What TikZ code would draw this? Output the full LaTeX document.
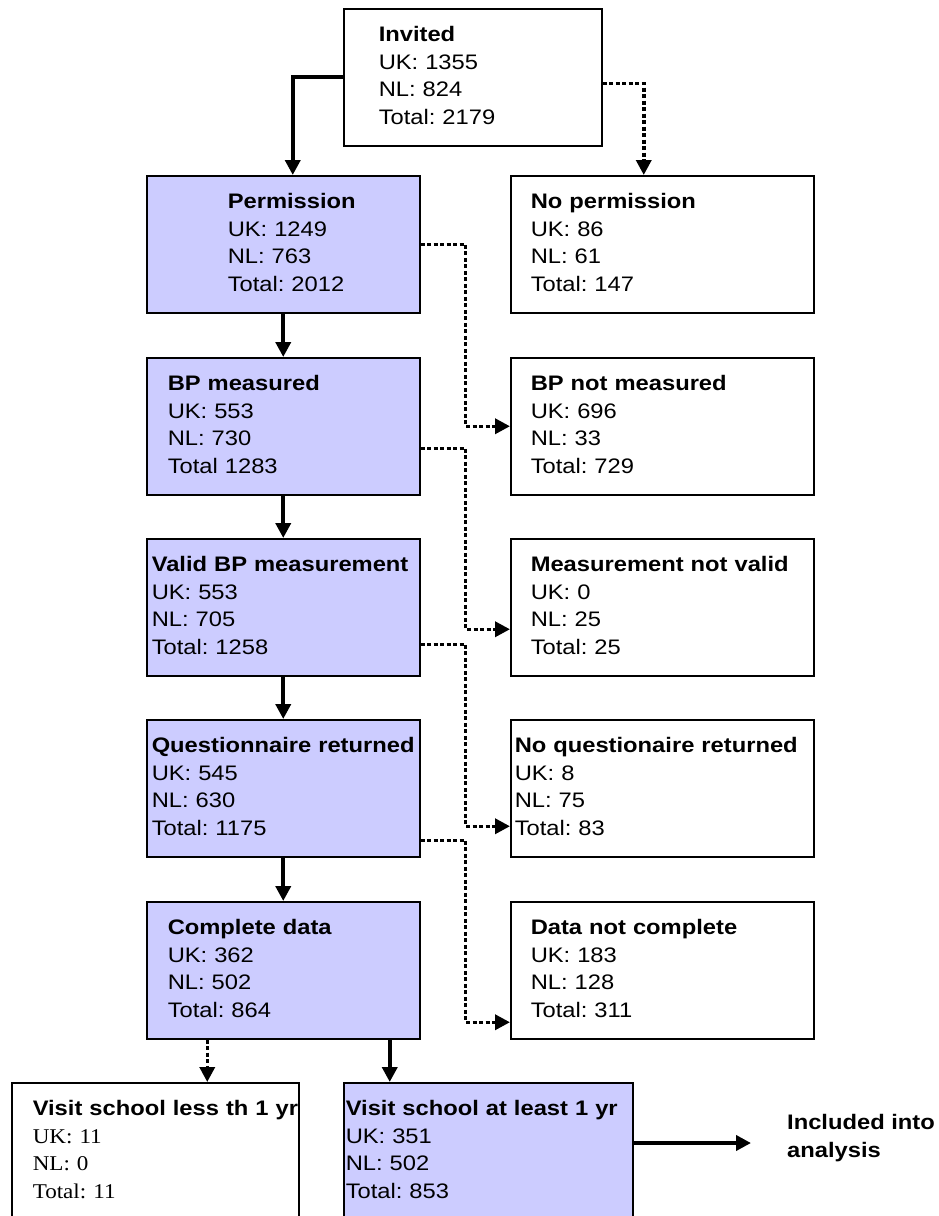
\documentclass[tikz,border=0pt]{standalone}
\usepackage{fontspec}
\setmainfont{Liberation Sans}[FakeStretch=1.13]
\newfontfamily\timesfont{Liberation Serif}[FakeStretch=1.1]
\usepackage{tikz}
\usetikzlibrary{arrows.meta}
\definecolor{lavender}{HTML}{CCCCFF}
\newcommand{\boxtext}[2]{\hspace*{#1}\begin{tabular}{@{}l@{}}#2\end{tabular}}
\frenchspacing

\begin{document}
\begin{tikzpicture}[x=1pt,y=-1pt,
    stage/.style={draw, line width=1.5pt, inner sep=0pt, anchor=north west, minimum height=137pt, align=left, font=\fontsize{21}{27.5}\selectfont},
    kept/.style={stage, fill=lavender},
    flow/.style={line width=4pt, -{Triangle[width=15pt,length=15pt]}},
    drop/.style={line width=3.5pt, dash pattern=on 4pt off 2.5pt, -{Triangle[width=15pt,length=15pt]}}]
         \path[use as bounding box, clip] (0,0) rectangle (938,1216);

         \node[stage, text width=258pt] (inv) at (343,8) {\boxtext{35pt}{\textbf{Invited}\\ UK: 1355\\ NL: 824\\ Total: 2179}};

         \node[kept, text width=273pt] (perm) at (146,175) {\boxtext{81pt}{\textbf{Permission}\\ UK: 1249\\ NL: 763\\ Total: 2012}};
         \node[kept, text width=273pt] (bpm) at (146,357) {\boxtext{21pt}{\textbf{BP measured}\\ UK: 553\\ NL: 730\\ Total 1283}};
         \node[kept, text width=273pt] (valid) at (146,538) {\boxtext{5pt}{\textbf{Valid BP measurement}\\ UK: 553\\ NL: 705\\ Total: 1258}};
         \node[kept, text width=273pt] (quest) at (146,719) {\boxtext{5pt}{\textbf{Questionnaire returned}\\ UK: 545\\ NL: 630\\ Total: 1175}};
         \node[kept, text width=273pt] (compl) at (146,901) {\boxtext{21pt}{\textbf{Complete data}\\ UK: 362\\ NL: 502\\ Total: 864}};

         \node[stage, text width=303pt] (noperm) at (510,175) {\boxtext{20pt}{\textbf{No permission}\\ UK: 86\\ NL: 61\\ Total: 147}};
         \node[stage, text width=303pt] (bpnot) at (510,357) {\boxtext{20pt}{\textbf{BP not measured}\\ UK: 696\\ NL: 33\\ Total: 729}};
         \node[stage, text width=303pt] (mnv) at (510,538) {\boxtext{20pt}{\textbf{Measurement not valid}\\ UK: 0\\ NL: 25\\ Total: 25}};
         \node[stage, text width=303pt] (noq) at (510,719) {\boxtext{4pt}{\textbf{No questionaire returned}\\ UK: 8\\ NL: 75\\ Total: 83}};
         \node[stage, text width=303pt] (dnc) at (510,901) {\boxtext{20pt}{\textbf{Data not complete}\\ UK: 183\\ NL: 128\\ Total: 311}};

         \node[stage, text width=287pt] (visless) at (11,1082) {\boxtext{21pt}{\textbf{Visit school less th 1 yr}\\ \timesfont UK: 11\\ \timesfont NL: 0\\ \timesfont Total: 11}};
         \node[kept, text width=289pt] (visleast) at (343,1082) {\boxtext{2pt}{\textbf{Visit school at least 1 yr}\\ UK: 351\\ NL: 502\\ Total: 853}};
         \node[anchor=west, inner sep=0pt, align=left, font=\bfseries\fontsize{21}{28}\selectfont] (incl) at (787,1138) {Included into\\ analysis};

         \draw[flow] (inv.west) -| ([xshift=9.5pt]perm.north);
         \draw[drop] ([yshift=-6pt]inv.east) -| ([xshift=-18.5pt]noperm.north);

         \draw[flow] (perm) -- (bpm);
         \draw[flow] (bpm) -- (valid);
         \draw[flow] (valid) -- (quest);
         \draw[flow] (quest) -- (compl);

         \draw[drop] (perm.east) -- ++(45,0) |- (bpnot.west);
         \draw[drop] ([yshift=-22pt]bpm.east) -- ++(45,0) |- ([yshift=-22pt]mnv.west);
         \draw[drop] ([yshift=-37pt]valid.east) -- ++(45,0) |- ([yshift=-38pt]noq.west);
         \draw[drop] ([yshift=-52pt]quest.east) -- ++(45,0) |- ([yshift=-52pt]dnc.west);

         \draw[drop] ([xshift=-76pt]compl.south) -- ([xshift=-76pt]compl.south |- visless.north);
         \draw[flow] ([xshift=106.5pt]compl.south) -- ([xshift=106.5pt]compl.south |- visleast.north);
         \draw[flow] ([yshift=-5pt]visleast.east |- incl.west) -- ([xshift=-36pt,yshift=-5pt]incl.west);
    \end{tikzpicture}
\end{document}
